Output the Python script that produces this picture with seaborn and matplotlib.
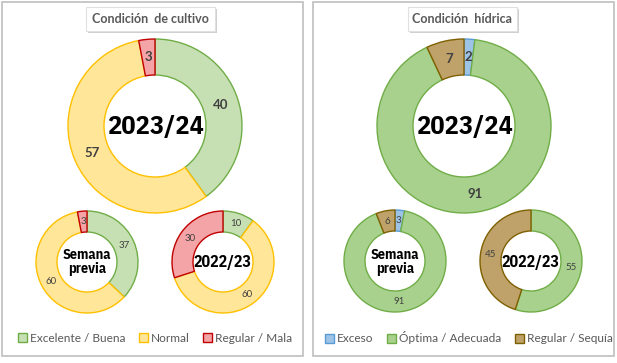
import numpy as np
import matplotlib
matplotlib.use('Agg')
import matplotlib.pyplot as plt
import seaborn as sns
from matplotlib.patches import Rectangle, Patch

sns.set_theme(style='white')
plt.rcParams['font.family'] = ['Lato', 'DejaVu Sans']

# Condición de cultivo (%): Excelente/Buena, Normal, Regular/Mala
cultivo_labels = ['Excelente / Buena', 'Normal', 'Regular / Mala']
cultivo_actual = [40, 57, 3]
cultivo_semana = [37, 60, 3]
cultivo_anterior = [10, 60, 30]

# Condición hídrica (%): Exceso, Óptima/Adecuada, Regular/Sequía
hidrica_labels = ['Exceso', 'Óptima / Adecuada', 'Regular / Sequía']
hidrica_actual = [2, 91, 7]
hidrica_semana = [3, 91, 6]
hidrica_anterior = [0, 55, 45]

cultivo_fill = ['#C6E0B4', '#FFE699', '#F4A4A6']
cultivo_edge = ['#70AD47', '#FFC000', '#C00000']
hidrica_fill = ['#9DC3E6', '#A9D18E', '#BFA26A']
hidrica_edge = ['#5B9BD5', '#70AD47', '#7F6000']

W, H = 617, 363
fig = plt.figure(figsize=(W / 100, H / 100), dpi=100)
ax = fig.add_axes([0, 0, 1, 1])


def donut(values, cx, cy, r, r_in, fills, edges, big):
    lab_fmt = (lambda p: f'{p:.0f}' if p >= 0.5 else '')
    wedges, _, texts = ax.pie(
        values, center=(cx, H - cy), radius=r, startangle=90,
        counterclock=False, colors=fills, autopct=lab_fmt,
        pctdistance=(r + r_in) / 2 / r,
        wedgeprops=dict(width=r - r_in, linewidth=1.0))
    for w, ec in zip(wedges, edges):
        w.set_edgecolor(ec)
    for t in texts:
        t.set_color('#404040')
        if big:
            t.set_fontsize(9.5)
            t.set_fontweight('bold')
        else:
            t.set_fontsize(7)


center_font = ['IBM Plex Sans Condensed', 'DejaVu Sans']

# panel borders
for x0 in (1.5, 313):
    ax.add_patch(Rectangle((x0, H - 356), 301, 354.5, fill=False,
                           ec='#BFBFBF', lw=1.2))

# left panel
donut(cultivo_actual, 155, 126, 87, 51, cultivo_fill, cultivo_edge, True)
donut(cultivo_semana, 87, 262, 51, 30, cultivo_fill, cultivo_edge, False)
donut(cultivo_anterior, 223, 262, 51, 30, cultivo_fill, cultivo_edge, False)

# right panel
donut(hidrica_actual, 464, 126, 87, 51, hidrica_fill, hidrica_edge, True)
donut(hidrica_semana, 395, 261, 51, 30, hidrica_fill, hidrica_edge, False)
donut(hidrica_anterior, 531, 261, 51, 30, hidrica_fill, hidrica_edge, False)

for cx in (155, 464):
    ax.text(cx, H - 127, '2023/24', ha='center', va='center', fontsize=19,
            fontweight='bold', family=center_font, color='black')
for cx in (87, 395):
    ax.text(cx, H - 262, 'Semana\nprevia', ha='center', va='center',
            fontsize=10.2, fontweight='bold', family=center_font,
            color='black', linespacing=1.0)
for cx in (223, 531):
    ax.text(cx, H - 263, '2022/23', ha='center', va='center', fontsize=11.5,
            fontweight='bold', family=center_font, color='black')

# title boxes with shadow
for (x0, x1, title) in ((86, 215, 'Condición  de cultivo'),
                        (408, 517, 'Condición  hídrica')):
    ax.add_patch(Rectangle((x0 + 2, H - 33), x1 - x0, 24, fc='#D0D0D0',
                           ec='none'))
    ax.add_patch(Rectangle((x0, H - 31), x1 - x0, 24, fc='white',
                           ec='#E0E0E0', lw=0.8))
    ax.text((x0 + x1) / 2, H - 19, title, ha='center', va='center',
            fontsize=9, fontweight='bold', color='#595959')

ax.set_xlim(0, W)
ax.set_ylim(0, H)
ax.set_aspect('auto')
ax.axis('off')

# legends
for labels, fills, edges, xc in ((cultivo_labels, cultivo_fill, cultivo_edge, 155),
                                 (hidrica_labels, hidrica_fill, hidrica_edge, 469)):
    handles = [Patch(fc=f, ec=e, lw=1, label=l)
               for l, f, e in zip(labels, fills, edges)]
    fig.legend(handles=handles, loc='center', bbox_to_anchor=(xc / W, 1 - 338 / H),
               ncol=3, frameon=False, fontsize=8.6, labelcolor='#595959',
               handlelength=0.75, handleheight=0.75, handletextpad=0.25,
               columnspacing=1.15)

fig.savefig('out.png', dpi=100, facecolor='white')
